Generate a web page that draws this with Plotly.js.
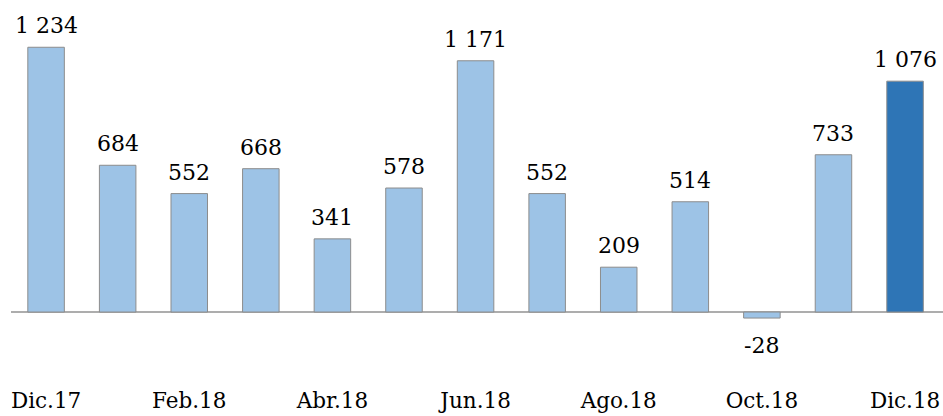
<!DOCTYPE html>
<html>
<head>
<meta charset="utf-8">
<script src="https://cdn.plot.ly/plotly-3.0.1.min.js"></script>
<style>html,body{margin:0;padding:0;background:#fff;}#chart{width:943px;height:416px;}</style>
</head>
<body>
<div id="chart"></div>
<script>
var categories = ["Dic.17","Ene.18","Feb.18","Mar.18","Abr.18","May.18","Jun.18","Jul.18","Ago.18","Sep.18","Oct.18","Nov.18","Dic.18"];
var values = [1234, 684, 552, 668, 341, 578, 1171, 552, 209, 514, -28, 733, 1076];
var tickLabels = ["Dic.17","Feb.18","Abr.18","Jun.18","Ago.18","Oct.18","Dic.18"];

var lightBlue = "#9DC3E6", darkBlue = "#2E75B6";
var colors = values.map(function(v, i){ return i === values.length - 1 ? darkBlue : lightBlue; });
function fmt(v){ return String(v).replace(/\B(?=(\d{3})+(?!\d))/g, " "); }

var FONT = "DejaVu Serif, Liberation Serif, serif";

var annotations = values.map(function(v, i){
  return {
    x: categories[i], y: v, text: fmt(v), showarrow: false,
    xanchor: "center", yanchor: v >= 0 ? "bottom" : "top",
    yshift: v >= 0 ? 7 : -13,
    font: {family: FONT, size: 22, color: "#000"}
  };
});

var trace = {
  type: "bar", x: categories, y: values,
  marker: {color: colors, line: {color: "#8C8C8C", width: 1}},
  hoverinfo: "none"
};

var layout = {
  width: 943, height: 416,
  margin: {l: 11, r: 0, t: 20, b: 31},
  paper_bgcolor: "#fff", plot_bgcolor: "#fff",
  bargap: 0.49,
  showlegend: false,
  xaxis: {
    type: "category", range: [-0.49, 12.53],
    tickvals: tickLabels, ticktext: tickLabels,
    showgrid: false, showline: false, ticks: "", zeroline: false,
    tickfont: {family: FONT, size: 21.5, color: "#000"}
  },
  yaxis: {
    range: [-340, 1361], visible: true, showgrid: false, showticklabels: false,
    ticks: "", showline: false,
    zeroline: true, zerolinecolor: "#ADADAD", zerolinewidth: 1.5
  },
  annotations: annotations
};

Plotly.newPlot("chart", [trace], layout, {displayModeBar: false, staticPlot: true});
</script>
</body>
</html>
